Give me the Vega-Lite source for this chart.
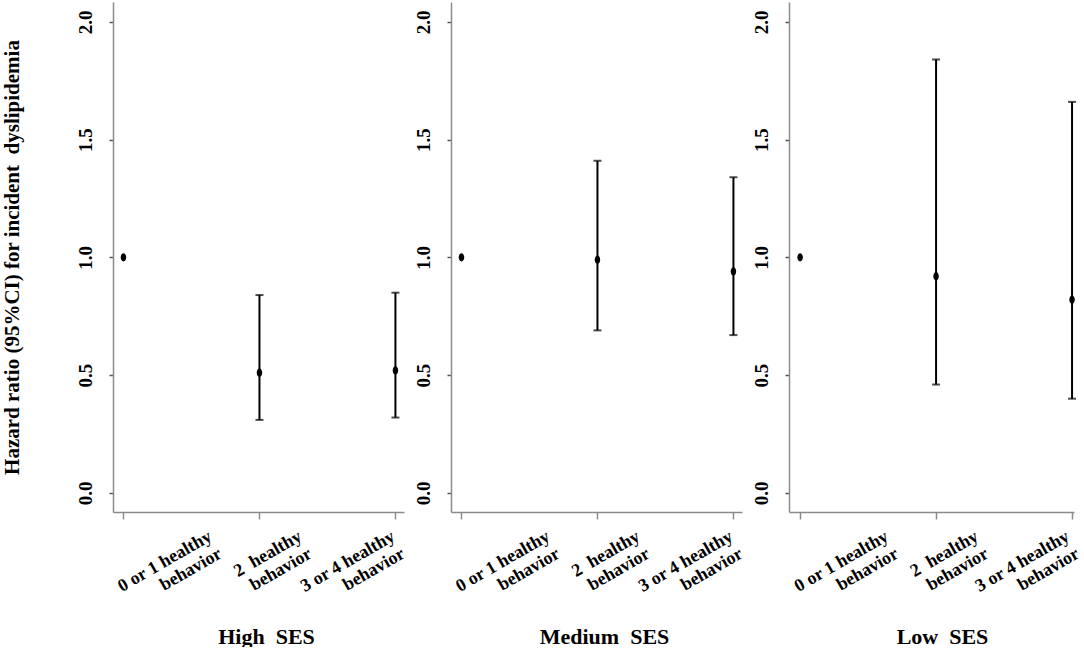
{
  "$schema": "https://vega.github.io/schema/vega-lite/v6.json",
  "background": "white",
  "padding": {"left": 0, "top": 2, "right": 0, "bottom": 0},
  "data": {
    "values": [
      {"ses": "High", "group": "0 or 1 healthy behavior", "hr": 1.0, "lo": null, "hi": null},
      {"ses": "High", "group": "2 healthy behavior", "hr": 0.51, "lo": 0.31, "hi": 0.84},
      {"ses": "High", "group": "3 or 4 healthy behavior", "hr": 0.52, "lo": 0.32, "hi": 0.85},
      {"ses": "Medium", "group": "0 or 1 healthy behavior", "hr": 1.0, "lo": null, "hi": null},
      {"ses": "Medium", "group": "2 healthy behavior", "hr": 0.99, "lo": 0.69, "hi": 1.41},
      {"ses": "Medium", "group": "3 or 4 healthy behavior", "hr": 0.94, "lo": 0.67, "hi": 1.34},
      {"ses": "Low", "group": "0 or 1 healthy behavior", "hr": 1.0, "lo": null, "hi": null},
      {"ses": "Low", "group": "2 healthy behavior", "hr": 0.92, "lo": 0.46, "hi": 1.84},
      {"ses": "Low", "group": "3 or 4 healthy behavior", "hr": 0.82, "lo": 0.40, "hi": 1.66}
    ]
  },
  "spacing": 47,
  "bounds": "flush",
  "hconcat": [
    {
      "width": 291,
      "height": 510,
      "transform": [{"filter": "datum.ses == 'High'"}],
      "encoding": {
        "x": {
          "field": "group",
          "type": "nominal",
          "scale": {"type": "point", "padding": 0.07, "align": 0.55},
          "axis": {
            "title": "High \u00a0SES",
            "labelExpr": "datum.value == '0 or 1 healthy behavior' ? ['0 or 1 healthy', 'behavior'] : datum.value == '2 healthy behavior' ? ['2 \u00a0healthy', 'behavior'] : ['3 or 4 healthy', 'behavior']",
            "labelOffset": {"expr": "datum.value == '0 or 1 healthy behavior' ? 82 : datum.value == '2 healthy behavior' ? 36 : -7"}
          }
        }
      },
      "layer": [
        {
          "transform": [{"filter": "isValid(datum.lo)"}],
          "mark": {"type": "rule", "color": "black", "strokeWidth": 2},
          "encoding": {
            "y": {"field": "lo", "type": "quantitative", "title": "Hazard ratio (95%CI) for incident \u00a0dyslipidemia", "scale": {"domain": [-0.081, 2.084], "nice": false, "zero": false}},
            "y2": {"field": "hi"}
          }
        },
        {
          "transform": [{"filter": "isValid(datum.lo)"}],
          "mark": {"type": "tick", "color": "black", "size": 8, "thickness": 2},
          "encoding": {
            "y": {"field": "lo", "type": "quantitative", "title": "Hazard ratio (95%CI) for incident \u00a0dyslipidemia"}
          }
        },
        {
          "transform": [{"filter": "isValid(datum.hi)"}],
          "mark": {"type": "tick", "color": "black", "size": 8, "thickness": 2},
          "encoding": {
            "y": {"field": "hi", "type": "quantitative", "title": "Hazard ratio (95%CI) for incident \u00a0dyslipidemia"}
          }
        },
        {
          "mark": {"type": "point", "filled": true, "color": "black", "opacity": 1, "size": 70, "shape": "M0,-1A0.65,1 0 1,1 0,1A0.65,1 0 1,1 0,-1Z"},
          "encoding": {
            "y": {"field": "hr", "type": "quantitative", "title": "Hazard ratio (95%CI) for incident \u00a0dyslipidemia"}
          }
        }
      ]
    },
    {
      "width": 291,
      "height": 510,
      "transform": [{"filter": "datum.ses == 'Medium'"}],
      "encoding": {
        "x": {
          "field": "group",
          "type": "nominal",
          "scale": {"type": "point", "padding": 0.07, "align": 0.55},
          "axis": {
            "title": "Medium \u00a0SES",
            "labelExpr": "datum.value == '0 or 1 healthy behavior' ? ['0 or 1 healthy', 'behavior'] : datum.value == '2 healthy behavior' ? ['2 \u00a0healthy', 'behavior'] : ['3 or 4 healthy', 'behavior']",
            "labelOffset": {"expr": "datum.value == '0 or 1 healthy behavior' ? 82 : datum.value == '2 healthy behavior' ? 36 : -7"}
          }
        }
      },
      "layer": [
        {
          "transform": [{"filter": "isValid(datum.lo)"}],
          "mark": {"type": "rule", "color": "black", "strokeWidth": 2},
          "encoding": {
            "y": {"field": "lo", "type": "quantitative", "title": null, "scale": {"domain": [-0.081, 2.084], "nice": false, "zero": false}},
            "y2": {"field": "hi"}
          }
        },
        {
          "transform": [{"filter": "isValid(datum.lo)"}],
          "mark": {"type": "tick", "color": "black", "size": 8, "thickness": 2},
          "encoding": {
            "y": {"field": "lo", "type": "quantitative", "title": null}
          }
        },
        {
          "transform": [{"filter": "isValid(datum.hi)"}],
          "mark": {"type": "tick", "color": "black", "size": 8, "thickness": 2},
          "encoding": {
            "y": {"field": "hi", "type": "quantitative", "title": null}
          }
        },
        {
          "mark": {"type": "point", "filled": true, "color": "black", "opacity": 1, "size": 70, "shape": "M0,-1A0.65,1 0 1,1 0,1A0.65,1 0 1,1 0,-1Z"},
          "encoding": {
            "y": {"field": "hr", "type": "quantitative", "title": null}
          }
        }
      ]
    },
    {
      "width": 285,
      "height": 510,
      "transform": [{"filter": "datum.ses == 'Low'"}],
      "encoding": {
        "x": {
          "field": "group",
          "type": "nominal",
          "scale": {"type": "point", "padding": 0.048, "align": 0.85},
          "axis": {
            "title": "Low \u00a0SES",
            "labelExpr": "datum.value == '0 or 1 healthy behavior' ? ['0 or 1 healthy', 'behavior'] : datum.value == '2 healthy behavior' ? ['2 \u00a0healthy', 'behavior'] : ['3 or 4 healthy', 'behavior']",
            "labelOffset": {"expr": "datum.value == '0 or 1 healthy behavior' ? 82 : datum.value == '2 healthy behavior' ? 36 : -9"}
          }
        }
      },
      "layer": [
        {
          "transform": [{"filter": "isValid(datum.lo)"}],
          "mark": {"type": "rule", "color": "black", "strokeWidth": 2},
          "encoding": {
            "y": {"field": "lo", "type": "quantitative", "title": null, "scale": {"domain": [-0.081, 2.084], "nice": false, "zero": false}},
            "y2": {"field": "hi"}
          }
        },
        {
          "transform": [{"filter": "isValid(datum.lo)"}],
          "mark": {"type": "tick", "color": "black", "size": 8, "thickness": 2},
          "encoding": {
            "y": {"field": "lo", "type": "quantitative", "title": null}
          }
        },
        {
          "transform": [{"filter": "isValid(datum.hi)"}],
          "mark": {"type": "tick", "color": "black", "size": 8, "thickness": 2},
          "encoding": {
            "y": {"field": "hi", "type": "quantitative", "title": null}
          }
        },
        {
          "mark": {"type": "point", "filled": true, "color": "black", "opacity": 1, "size": 70, "shape": "M0,-1A0.65,1 0 1,1 0,1A0.65,1 0 1,1 0,-1Z"},
          "encoding": {
            "y": {"field": "hr", "type": "quantitative", "title": null}
          }
        }
      ]
    }
  ],
  "config": {
    "font": "Liberation Serif",
    "view": {"stroke": null},
    "axis": {
      "grid": false,
      "domainColor": "#8c8c8c",
      "domainWidth": 1.5,
      "tickColor": "#555555",
      "tickWidth": 1.5,
      "labelFont": "Liberation Serif",
      "labelFontWeight": "bold",
      "labelColor": "black",
      "titleFont": "Liberation Serif",
      "titleFontWeight": "bold",
      "titleColor": "black"
    },
    "axisY": {
      "tickCount": 5,
      "format": ".1f",
      "labelAngle": -90,
      "labelAlign": "center",
      "labelBaseline": "alphabetic",
      "labelPadding": 18,
      "labelFontSize": 19,
      "tickSize": 4,
      "titleFontSize": 21,
      "titleAngle": -90,
      "titleAlign": "center",
      "titleBaseline": "alphabetic",
      "titleX": -95,
      "titleY": 255
    },
    "axisX": {
      "labelAngle": -30,
      "labelAlign": "right",
      "labelBaseline": "top",
      "labelFontSize": 18,
      "labelLineHeight": 20,
      "labelPadding": 8,
      "labelOverlap": false,
      "labelBound": false,
      "labelFlush": false,
      "tickSize": 7,
      "tickColor": "#8c8c8c",
      "titleFontSize": 22,
      "titleX": 153,
      "titleY": 131,
      "titleAlign": "center",
      "titleBaseline": "alphabetic"
    }
  }
}
